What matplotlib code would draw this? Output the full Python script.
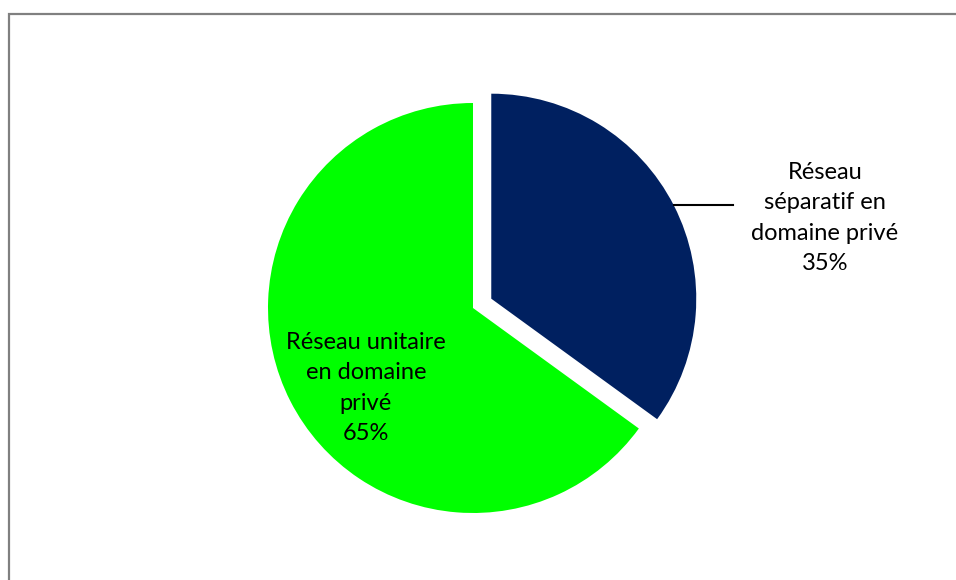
import matplotlib.pyplot as plt
from matplotlib.patches import Rectangle

# data
labels = ['Réseau\nséparatif en\ndomaine privé', 'Réseau unitaire\nen domaine\nprivé']
values = [35, 65]
colors = ['#002060', '#00FF00']

W, H = 956, 580
fig = plt.figure(figsize=(W / 100, H / 100), dpi=100)
ax = fig.add_axes([0, 0, 1, 1])

# pie in pixel-like coordinates (y measured from bottom)
cx, cy, r = 473, H - 308, 205
wedges, _ = ax.pie(values, colors=colors, startangle=90, counterclock=False,
                   center=(cx, cy), radius=r, explode=[0.1 * r, 0],
                   wedgeprops=dict(linewidth=0))

# outer frame (cut by the image edges)
ax.add_patch(Rectangle((9, -50), 1100, H - 14 + 50, fill=False,
                       edgecolor='#808080', linewidth=1.6, clip_on=False))

font = dict(family=['Lato', 'DejaVu Sans'], fontsize=17, ha='center', va='center',
            linespacing=1.55, color='black')
ax.text(825, H - 218, f'{labels[0]}\n{values[0]}%', **font)
ax.text(366, H - 388, f'{labels[1]}\n{values[1]}%', **font)

# leader line for the navy slice
ax.plot([674, 733], [H - 205, H - 205], color='black', linewidth=1.5)

ax.set_xlim(0, W)
ax.set_ylim(0, H)
ax.set_aspect('equal')
ax.axis('off')

fig.savefig('out.png', dpi=100, facecolor='white')
